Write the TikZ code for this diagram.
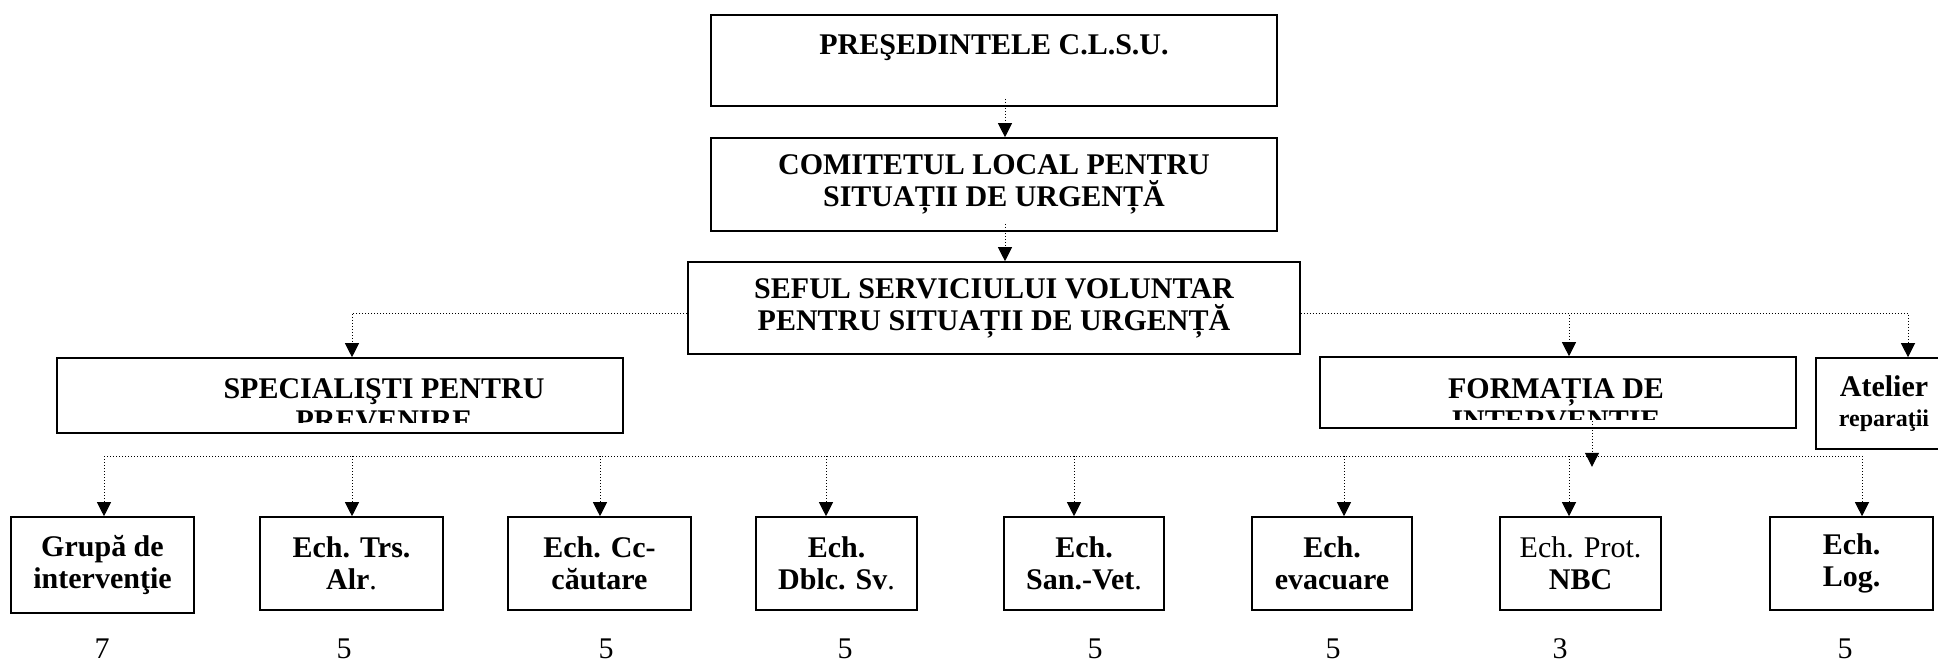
\documentclass[tikz,border=0pt]{standalone}
\usepackage{fontspec}
\setmainfont{Liberation Serif}
\usetikzlibrary{arrows.meta,calc}

\tikzset{
  box/.style={draw, line width=0.8pt, fill=white, inner sep=0pt, align=center,
    font=\bfseries\fontsize{15}{16}\selectfont},
  txt/.style={inner sep=0pt, align=center, font=\bfseries\fontsize{15}{16}\selectfont},
  bus/.style={line width=0.5pt, dash pattern=on 0.5pt off 1pt},
  link/.style={bus, -{Triangle[length=7pt,width=7pt]}},
  num/.style={inner sep=0pt, font=\fontsize{15}{16}\selectfont}
}

\begin{document}
\begin{tikzpicture}[x=0.5pt, y=-0.5pt]
      \useasboundingbox (0,0) rectangle (1938,665);

      \node[box, minimum width=283pt, minimum height=45.5pt] (pres) at (994,60.5) {PREŞEDINTELE C.L.S.U.\\~};
      \node[box, minimum width=283pt, minimum height=46.5pt] (com) at (994,184.5) {COMITETUL LOCAL PENTRU\\SITUAȚII DE URGENȚĂ};
      \node[box, minimum width=306pt, minimum height=46pt] (sef) at (994,308) {SEFUL SERVICIULUI VOLUNTAR\\PENTRU SITUAȚII DE URGENȚĂ};

      \node[box, minimum width=283pt, minimum height=37.5pt] (spec) at (340,395.5) {};
      \begin{scope}
        \clip (57,358) rectangle (623,422);
        \node[txt, anchor=north] (spec-txt) at (384,378) {SPECIALIŞTI PENTRU\\PREVENIRE};
      \end{scope}
      \node[box, minimum width=238pt, minimum height=35.5pt] (form) at (1558,392.5) {};
      \begin{scope}
        \clip (1320,357) rectangle (1796,419);
        \node[txt, anchor=north] (form-txt) at (1556,378) {FORMAȚIA DE\\INTERVENȚIE};
      \end{scope}
      \node[box, minimum width=68pt, minimum height=45.5pt] (atel) at (1884,403.5) {Atelier\\[-1pt]{\fontsize{12}{15}\selectfont reparaţii}};

      \node[box, minimum width=91.5pt, minimum height=48pt] (grupa) at (102.5,565) {Grupă de\\intervenţie};
      \node[box, minimum width=91.5pt, minimum height=46.5pt] (trs) at (351.5,563.5) {Ech. Trs.\\Alr\textmd{.}};
      \node[box, minimum width=91.5pt, minimum height=46.5pt] (cc) at (599.5,563.5) {Ech. Cc-\\căutare};
      \node[box, minimum width=80.5pt, minimum height=46.5pt] (dblc) at (836.5,563.5) {Ech.\\Dblc. Sv\textmd{.}};
      \node[box, minimum width=80pt, minimum height=46.5pt] (san) at (1084,563.5) {Ech.\\San.-Vet\textmd{.}};
      \node[box, minimum width=80pt, minimum height=46.5pt] (evac) at (1332,563.5) {Ech.\\evacuare};
      \node[box, minimum width=80.5pt, minimum height=46.5pt] (nbc) at (1580.5,563.5) {{\mdseries Ech. Prot.}\\NBC};
      \node[box, minimum width=81.5pt, minimum height=46.5pt] (log) at (1851.5,563.5) {Ech.\\Log.};

      \node[num] (n1) at (102,649) {7};
      \node[num] (n2) at (344,649) {5};
      \node[num] (n3) at (606,649) {5};
      \node[num] (n4) at (845,649) {5};
      \node[num] (n5) at (1095,649) {5};
      \node[num] (n6) at (1333,649) {5};
      \node[num] (n7) at (1560,649) {3};
      \node[num] (n8) at (1845,649) {5};

      \draw[link] ($(pres.south)+(11,-8)$) -- ($(com.north)+(11,0)$);
      \draw[link] ($(com.south)+(11,-8)$) -- ($(sef.north)+(11,0)$);
      \draw[link] ($(sef.west)+(0,5)$) -| ($(spec.north)+(12,0)$);
      \draw[link] ($(sef.east)+(0,5)$) -| ($(form.north)+(11,0)$);
      \draw[link] ($(sef.east)+(0,5)$) -| ($(atel.north)+(24,0)$);

      \coordinate (fbus) at ($(form.south)+(34,38)$);
      \coordinate (busl) at ($(grupa.north)+(1.5,-60)$);
      \coordinate (busr) at ($(log.north)+(10.5,-60)$);
      \draw[link] ($(form.south)+(34,-8)$) -- (fbus);
      \draw[bus] (busl) -- (busr);

      \draw[link] ($(grupa.north)+(1.5,-60)$) -- ($(grupa.north)+(1.5,0)$);
      \draw[link] ($(trs.north)+(0.5,-60)$) -- ($(trs.north)+(0.5,0)$);
      \draw[link] ($(cc.north)+(0.5,-60)$) -- ($(cc.north)+(0.5,0)$);
      \draw[link] ($(dblc.north)+(-10.5,-60)$) -- ($(dblc.north)+(-10.5,0)$);
      \draw[link] ($(san.north)+(-10,-60)$) -- ($(san.north)+(-10,0)$);
      \draw[link] ($(evac.north)+(12,-60)$) -- ($(evac.north)+(12,0)$);
      \draw[link] ($(nbc.north)+(-11.5,-60)$) -- ($(nbc.north)+(-11.5,0)$);
      \draw[link] ($(log.north)+(10.5,-60)$) -- ($(log.north)+(10.5,0)$);
    \end{tikzpicture}
\end{document}
